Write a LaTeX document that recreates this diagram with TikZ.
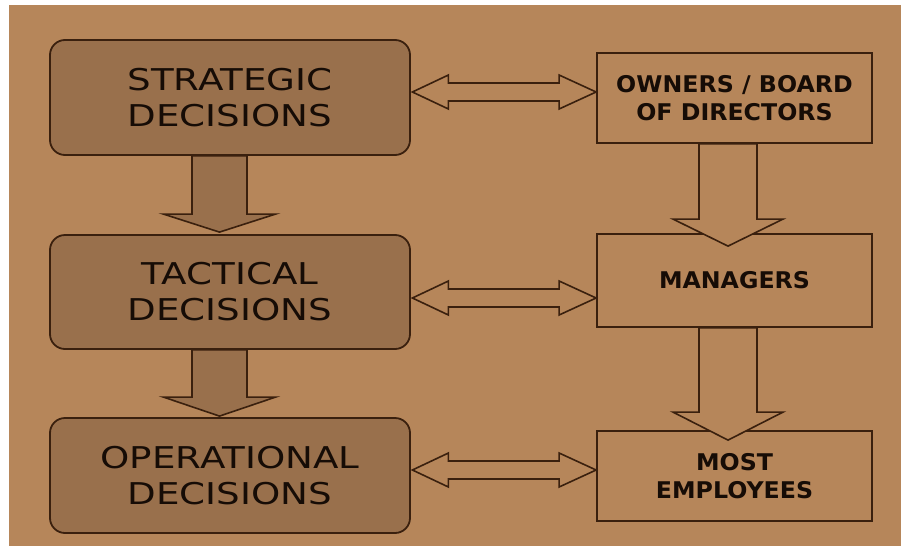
\documentclass[tikz,border=0pt]{standalone}
\usepackage{fontspec}
\usetikzlibrary{calc}
\newfontfamily\lfont[FakeStretch=1.24]{DejaVu Sans}
\newfontfamily\rfont[FakeStretch=1.03]{DejaVu Sans}
\definecolor{bgc}{RGB}{182,134,90}
\definecolor{lfill}{RGB}{153,112,76}
\definecolor{linec}{RGB}{58,32,14}
\definecolor{txtc}{RGB}{22,12,6}
\tikzset{
  lbox/.style={draw=linec, fill=lfill, line width=1.8pt, rounded corners=15pt,
    minimum width=360pt, inner sep=0pt, align=center, text=txtc,
    font=\lfont\fontsize{30}{36}\selectfont},
  rbox/.style={draw=linec, fill=bgc, line width=1.8pt, minimum width=275pt,
    inner sep=0pt, align=center, text=txtc,
    font=\rfont\bfseries\fontsize{23}{28}\selectfont},
  blockarrow/.style={draw=linec, line width=1.6pt, line join=miter},
}
% vertical block arrow: #1 start, #2 tip, #3 shaft half width, #4 head half width, #5 head length, #6 fill
\newcommand\vbarrow[6]{%
  \draw[blockarrow, fill=#6] ($(#1)+(-#3,0)$) -- ($(#2)+(-#3,-#5)$) -- ($(#2)+(-#4,-#5)$)
    -- (#2) -- ($(#2)+(#4,-#5)$) -- ($(#2)+(#3,-#5)$) -- ($(#1)+(#3,0)$) -- cycle;}
% horizontal double block arrow between tips #1 and #2
\newcommand\hdarrow[2]{%
  \draw[blockarrow, fill=bgc] (#1) -- ($($(#1)!36pt!(#2)$)+(0,-17)$) -- ($($(#1)!36pt!(#2)$)+(0,-9)$)
    -- ($($(#2)!37pt!(#1)$)+(0,-9)$) -- ($($(#2)!37pt!(#1)$)+(0,-17)$) -- (#2)
    -- ($($(#2)!37pt!(#1)$)+(0,17)$) -- ($($(#2)!37pt!(#1)$)+(0,9)$)
    -- ($($(#1)!36pt!(#2)$)+(0,9)$) -- ($($(#1)!36pt!(#2)$)+(0,17)$) -- cycle;}
\begin{document}
\begin{tikzpicture}[x=1pt,y=-1pt]
\useasboundingbox (0,0) rectangle (901,546);
\fill[white] (0,0) rectangle (901,546);
\fill[bgc] (9,5) rectangle (901,546);

% left boxes
\node[lbox, minimum height=115pt] (strat) at (230,97.5) {STRATEGIC\\DECISIONS};
\node[lbox, minimum height=114pt] (tact) at (230,292) {TACTICAL\\DECISIONS};
\node[lbox, minimum height=115pt] (oper) at (230,475.5) {OPERATIONAL\\DECISIONS};

% right boxes
\node[rbox, minimum height=90pt] (owners) at (734.5,98) {OWNERS / BOARD\\OF DIRECTORS};
\node[rbox, minimum height=93pt] (mgrs) at (734.5,280.5) {MANAGERS};
\node[rbox, minimum height=90pt] (emps) at (734.5,476) {MOST\\EMPLOYEES};

% left vertical arrows
\coordinate (ls1) at ($(strat.south)+(-10.5,0)$);
\coordinate (lt1) at ($(ls1 |- tact.north)+(0,-2)$);
\vbarrow{ls1}{lt1}{27.5}{56}{18}{lfill}
\coordinate (ls2) at ($(tact.south)+(-10.5,0)$);
\coordinate (lt2) at ($(ls2 |- oper.north)+(0,-1)$);
\vbarrow{ls2}{lt2}{27.5}{56}{19}{lfill}

% right vertical arrows
\coordinate (rs1) at ($(owners.south)+(-6.5,0)$);
\coordinate (rt1) at ($(rs1 |- mgrs.north)+(0,13)$);
\vbarrow{rs1}{rt1}{29}{55}{27}{bgc}
\coordinate (rs2) at ($(mgrs.south)+(-6.5,0)$);
\coordinate (rt2) at ($(rs2 |- emps.north)+(0,10)$);
\vbarrow{rs2}{rt2}{29}{55}{28}{bgc}

% horizontal double arrows
\coordinate (ha1) at ($(strat.east)+(1.5,-5.5)$);
\coordinate (hb1) at (owners.west |- ha1);
\hdarrow{ha1}{hb1}
\coordinate (ha2) at ($(tact.east)+(1.5,6)$);
\coordinate (hb2) at (mgrs.west |- ha2);
\hdarrow{ha2}{hb2}
\coordinate (ha3) at ($(oper.east)+(1.5,-5.5)$);
\coordinate (hb3) at (emps.west |- ha3);
\hdarrow{ha3}{hb3}
\end{tikzpicture}
\end{document}
